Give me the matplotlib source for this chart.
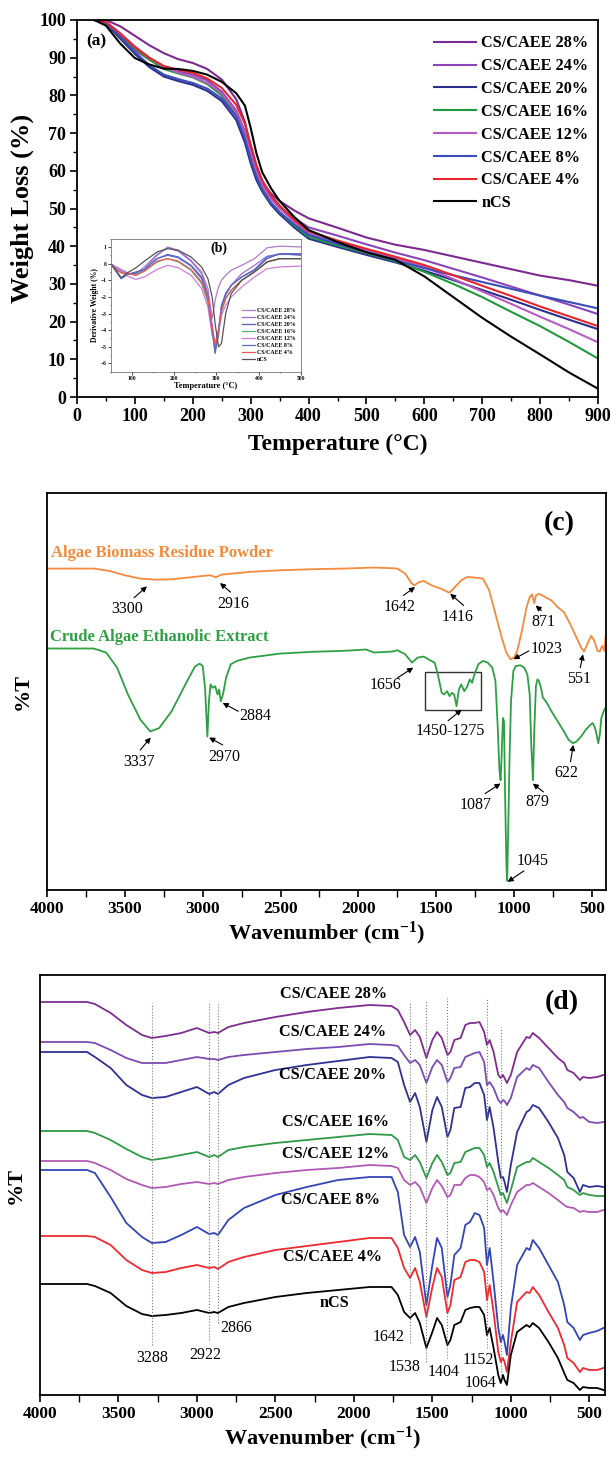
import numpy as np
import matplotlib
matplotlib.use('Agg')
import matplotlib.pyplot as plt
from matplotlib.ticker import MultipleLocator

plt.rcParams['font.family'] = ['Liberation Serif', 'DejaVu Serif']
plt.rcParams['mathtext.fontset'] = 'custom'
plt.rcParams['mathtext.rm'] = 'Liberation Serif'
plt.rcParams['mathtext.bf'] = 'Liberation Serif:bold'
plt.rcParams['mathtext.it'] = 'Liberation Serif:italic'

# ---------------- Panel (a): TGA ----------------
series_names = ['CS/CAEE 28%', 'CS/CAEE 24%', 'CS/CAEE 20%', 'CS/CAEE 16%',
                'CS/CAEE 12%', 'CS/CAEE 8%', 'CS/CAEE 4%', 'nCS']
tga_temp = [30, 50, 75, 100, 125, 150, 175, 200, 225, 250, 275, 290, 300, 310, 320,
            335, 350, 375, 400, 450, 500, 550, 600, 650, 700, 750, 800, 850, 900]
tga_28 = [100, 100, 98.3, 95.8, 93.3, 91.2, 89.6, 88.6, 87.0, 84.2, 79.0, 73.0, 66.0, 60.5, 57.0,
          54.0, 52.0, 49.5, 47.4, 44.9, 42.3, 40.4, 39.0, 37.3, 35.6, 33.9, 32.2, 31.0, 29.5]
tga_24 = [100, 99.5, 96, 92, 89.5, 87.5, 86.3, 85.5, 84, 81, 76, 70.5, 65, 60, 56.5,
          53, 50.5, 47.5, 45, 42.8, 40.5, 38.3, 36.3, 34, 31.7, 29.3, 26.9, 24.5, 22]
tga_20 = [100, 99, 95, 91, 87.5, 85, 83.8, 82.8, 81.2, 78.5, 73.5, 67.5, 62, 57.5, 54.5,
          51, 48.5, 45, 42, 39.8, 37.7, 35.7, 33.5, 31, 28.4, 25.8, 23.1, 20.5, 18]
tga_16 = [100, 99.3, 96, 92.5, 89.5, 87, 85.8, 84.8, 83, 80, 75, 69, 63.5, 58.5, 55,
          51.5, 49, 45.5, 42.5, 40.2, 38.2, 36, 33.2, 30, 26.5, 22.6, 18.8, 14.6, 10.2]
tga_12 = [100, 99.5, 96.5, 93, 90, 87.5, 86, 85, 83.3, 80.5, 75.5, 70, 64.5, 59.5, 56,
          52.5, 50, 46.5, 43.5, 41, 39, 36.8, 34.5, 31.3, 28, 24.7, 21.3, 18, 14.5]
tga_8 = [100, 99, 95.5, 91.5, 88, 85.5, 84.3, 83.3, 81.8, 79.2, 74.5, 68.5, 63, 58.3, 55,
         51.5, 49, 45.8, 43, 40.6, 38.4, 36.2, 34.2, 32.3, 30.5, 28.7, 26.9, 25.2, 23.5]
tga_4 = [100, 99.5, 96.3, 92.8, 90, 87.8, 86.8, 86, 84.5, 82, 77.5, 72.5, 67, 61.5, 57.5,
         53.5, 50.8, 47, 44, 41.5, 39.3, 37.2, 35, 32.3, 29.5, 26.8, 24, 21.4, 18.8]
tga_ncs = [100, 98.5, 93.7, 89.9, 88.2, 87.1, 87, 86.5, 85.5, 83.6, 80.6, 77.3, 71.4, 64.6, 59.6,
           55.4, 52, 47.8, 44.3, 41.1, 38.4, 36.4, 32, 26.5, 21, 16, 11.3, 6.5, 2.2]

# ---------------- Inset (b): DTG ----------------
dtg_temp = [50, 60, 75, 90, 110, 130, 160, 185, 210, 240, 265, 280, 290, 297, 305,
            312, 322, 335, 360, 390, 420, 450, 500]
dtg_28 = [0, -0.15, -0.35, -0.55, -0.7, -0.35, 0.5, 1.0, 0.8, 0.2, -0.5, -1.5, -3.3, -2.2, -1.4,
          -1.0, -0.7, -0.4, -0.1, 0.3, 0.95, 1.05, 1.0]
dtg_24 = [0, -0.2, -0.45, -0.6, -0.6, -0.2, 0.55, 0.95, 0.75, 0.15, -0.6, -1.8, -3.8, -5.2, -4.0,
          -2.8, -1.9, -1.3, -0.6, -0.1, 0.45, 0.55, 0.55]
dtg_20 = [0, -0.35, -0.9, -0.65, -0.5, -0.35, 0.3, 0.55, 0.4, -0.1, -0.8, -2.0, -3.9, -5.3, -4.3,
          -2.6, -1.8, -1.3, -0.8, -0.4, 0.3, 0.6, 0.5]
dtg_16 = [0, -0.3, -0.55, -0.6, -0.65, -0.45, 0.1, 0.3, 0.1, -0.4, -1.2, -2.3, -3.9, -4.8, -4.0,
          -2.8, -2.1, -1.6, -1.0, -0.5, 0.1, 0.3, 0.3]
dtg_12 = [0, -0.2, -0.5, -0.75, -0.95, -0.8, -0.35, -0.1, -0.25, -0.7, -1.5, -2.6, -4.3, -4.8, -4.0,
          -3.1, -2.5, -2.0, -1.4, -0.8, -0.3, -0.2, -0.15]
dtg_8 = [0, -0.35, -0.9, -0.65, -0.55, -0.35, 0.3, 0.5, 0.35, -0.15, -0.9, -2.2, -4.0, -5.4, -4.0,
         -2.5, -1.8, -1.3, -0.8, -0.35, 0.4, 0.6, 0.6]
dtg_4 = [0, -0.3, -0.55, -0.6, -0.7, -0.45, 0.15, 0.3, 0.15, -0.35, -1.1, -2.1, -3.7, -4.9, -4.2,
         -2.9, -2.1, -1.6, -1.0, -0.5, 0.1, 0.3, 0.3]
dtg_ncs = [0, -0.3, -0.85, -0.55, -0.25, 0.15, 0.7, 0.9, 0.8, 0.4, -0.2, -0.9, -2.0, -3.6, -5.0,
           -4.8, -3.0, -1.8, -1.0, -0.5, 0.1, 0.3, 0.3]

# ---------------- Panel (c): FTIR of algae ----------------
abr_wn = [4000, 3700, 3600, 3500, 3400, 3300, 3200, 3100, 3000, 2950,
          2916, 2880, 2700, 2500, 2300, 2100, 1900, 1780, 1750, 1700,
          1660, 1642, 1610, 1580, 1530, 1470, 1416, 1380, 1340, 1300,
          1250, 1200, 1160, 1120, 1080, 1050, 1023, 1000, 980, 950,
          920, 900, 885, 871, 860, 840, 800, 760, 720, 680,
          640, 600, 570, 551, 530, 505, 485, 465, 450, 435,
          420, 412]
abr_t = [957, 957, 950, 937, 927, 924, 925, 930, 935, 937,
         931, 939, 947, 952, 955, 957, 960, 958, 957, 942,
         914, 907, 917, 920, 907, 897, 885, 902, 922, 932,
         930, 927, 892, 822, 752, 707, 687, 692, 712, 772,
         842, 872, 880, 854, 877, 882, 872, 862, 842, 827,
         792, 752, 722, 710, 732, 757, 742, 712, 710, 727,
         712, 757]
caee_wn = [4000, 3700, 3620, 3550, 3480, 3400, 3337, 3280, 3200, 3100,
           3050, 3020, 3000, 2985, 2970, 2960, 2950, 2935, 2920, 2905,
           2895, 2884, 2870, 2850, 2820, 2780, 2700, 2500, 2300, 2100,
           1950, 1900, 1780, 1750, 1700, 1656, 1620, 1580, 1540, 1510,
           1490, 1465, 1450, 1430, 1415, 1400, 1385, 1370, 1355, 1340,
           1320, 1300, 1285, 1270, 1255, 1230, 1200, 1170, 1140, 1120,
           1105, 1095, 1087, 1080, 1072, 1065, 1058, 1050, 1045, 1040,
           1030, 1020, 1005, 990, 960, 935, 915, 900, 890, 879,
           870, 860, 850, 840, 825, 815, 805, 790, 760, 720,
           680, 650, 622, 600, 570, 540, 510, 495, 480, 470,
           460, 450, 440, 425, 415]
caee_t = [719, 719, 707, 662, 582, 507, 472, 482, 532, 622,
          665, 674, 667, 602, 457, 562, 612, 602, 607, 582,
          597, 562, 582, 632, 672, 682, 692, 704, 709, 712,
          716, 707, 710, 714, 702, 677, 692, 695, 684, 677,
          642, 587, 582, 592, 577, 587, 582, 547, 597, 612,
          592, 607, 627, 617, 642, 672, 682, 677, 662, 622,
          482, 362, 327, 402, 512, 502, 282, 82, 27, 132,
          382, 562, 652, 667, 669, 662, 642, 582, 432, 327,
          482, 607, 627, 622, 597, 572, 567, 557, 532, 502,
          472, 447, 437, 442, 457, 477, 492, 497, 482, 462,
          437, 462, 512, 532, 542]

# ---------------- Panel (d): FTIR of films ----------------
film_wn = [4000, 3700, 3650, 3550, 3450, 3350, 3288, 3200, 3100, 3000,
           2922, 2890, 2866, 2800, 2700, 2500, 2300, 2100, 1900, 1760,
           1720, 1680, 1642, 1610, 1580, 1538, 1500, 1470, 1440, 1404,
           1385, 1360, 1320, 1290, 1260, 1230, 1200, 1170, 1152, 1135,
           1110, 1080, 1064, 1050, 1040, 1025, 1000, 960, 900, 880,
           860, 820, 760, 700, 660, 640, 600, 560, 540, 500,
           450, 410]
film_28 = [393, 393, 391, 382, 370, 360, 357, 359, 362, 367, 362, 363, 362, 368, 372, 378, 383, 387, 390, 389,
           385, 373, 360, 365, 358, 337, 355, 363, 357, 340, 343, 355, 357, 370, 372, 372, 373, 363, 350, 355,
           343, 320, 317, 320, 317, 312, 320, 343, 358, 357, 362, 357, 347, 337, 332, 325, 322, 315, 318, 317,
           318, 320]
film_24 = [353, 353, 352, 345, 337, 332, 332, 332, 335, 338, 336, 336, 335, 338, 340, 343, 346, 348, 351, 350,
           349, 340, 332, 335, 330, 312, 328, 335, 330, 313, 317, 327, 328, 338, 340, 342, 343, 333, 310, 313,
           307, 295, 292, 295, 294, 290, 297, 318, 327, 325, 330, 327, 313, 300, 293, 287, 283, 277, 278, 273,
           272, 273]
film_20 = [343, 343, 338, 327, 310, 300, 297, 298, 303, 308, 301, 303, 301, 310, 317, 325, 330, 334, 338, 337,
           333, 310, 293, 302, 288, 253, 285, 298, 288, 258, 265, 287, 288, 307, 308, 312, 312, 300, 275, 288,
           267, 233, 217, 218, 213, 203, 230, 263, 283, 285, 290, 287, 273, 257, 240, 223, 217, 203, 210, 208,
           209, 208]
film_16 = [264, 264, 262, 255, 246, 238, 235, 237, 240, 243, 238, 240, 238, 245, 248, 252, 255, 258, 261, 260,
           255, 238, 235, 240, 233, 217, 232, 240, 233, 220, 222, 232, 233, 243, 245, 247, 247, 240, 228, 232,
           223, 208, 200, 202, 198, 192, 205, 228, 233, 233, 237, 233, 227, 220, 215, 208, 205, 200, 202, 200,
           199, 199]
film_12 = [234, 234, 232, 225, 216, 210, 207, 208, 211, 213, 211, 212, 211, 215, 218, 222, 225, 227, 230, 229,
           227, 215, 210, 213, 208, 192, 207, 215, 209, 198, 200, 210, 210, 217, 220, 220, 218, 213, 205, 207,
           200, 187, 183, 185, 183, 180, 190, 203, 210, 210, 212, 208, 202, 195, 190, 188, 187, 183, 184, 183,
           183, 185]
film_8 = [225, 225, 222, 198, 172, 158, 152, 153, 160, 168, 161, 162, 160, 175, 187, 200, 208, 215, 218, 218,
          203, 160, 148, 158, 143, 90, 130, 157, 147, 98, 110, 140, 147, 170, 173, 182, 180, 167, 130, 147,
          113, 67, 53, 60, 53, 40, 87, 130, 147, 145, 155, 147, 130, 113, 90, 73, 67, 55, 60, 62,
          64, 67]
film_4 = [159, 159, 158, 150, 135, 125, 122, 123, 127, 130, 127, 128, 126, 133, 138, 145, 149, 153, 157, 157,
          147, 127, 117, 127, 113, 78, 108, 127, 118, 82, 90, 115, 118, 133, 135, 135, 133, 123, 95, 110,
          83, 43, 33, 37, 33, 23, 53, 93, 103, 102, 108, 100, 83, 67, 50, 37, 32, 23, 27, 25,
          25, 27]
film_ncs = [111, 111, 109, 102, 89, 81, 79, 80, 82, 85, 82, 83, 82, 88, 92, 98, 102, 105, 108, 108,
            100, 83, 77, 82, 72, 47, 63, 77, 70, 50, 55, 70, 73, 85, 87, 88, 88, 80, 60, 67,
            47, 20, 12, 20, 15, 10, 40, 63, 70, 68, 72, 67, 53, 37, 22, 15, 12, 5, 8, 7,
            7, 5]

peak_wn = [3288, 2922, 2866, 1642, 1538, 1404, 1152, 1064]
peak_top = [392, 393, 392, 392, 394, 397, 396, 368]
peak_bottom = [50, 55, 72, 52, 33, 37, 47, 17]

# ---------------- Styling ----------------
tga_colors = ['#7B2A90', '#8A46B8', '#2C2F8C', '#1F9A3E', '#B45BC4', '#3A4DB8', '#E8252A', '#000000']
dtg_colors = ['#B07CC6', '#9C6FD0', '#5A5FB0', '#4DB86A', '#D07CD6', '#5A6CCB', '#F0565A', '#555555']
film_colors = ['#7E2D8F', '#7A4CB0', '#2E3192', '#2E9A47', '#B05AB5', '#3345B5', '#EE2A2E', '#000000']
c_orange = '#F58A3C'
c_green = '#2EA043'

BOLD = 'bold'

fig = plt.figure(figsize=(6.11, 14.63), dpi=100)
W, H = 611.0, 1463.0
axA = fig.add_axes([77 / W, 1 - 397 / H, 521 / W, 377 / H])
axC = fig.add_axes([47 / W, 1 - 890 / H, 559 / W, 397 / H])
axD = fig.add_axes([40 / W, 1 - 1395 / H, 565 / W, 420 / H])

for ax in (axA, axC, axD):
    for sp in ax.spines.values():
        sp.set_linewidth(1.3)

# ---- Panel (a)
tga_series = [tga_28, tga_24, tga_20, tga_16, tga_12, tga_8, tga_4, tga_ncs]
lines = []
for name, ys, col in zip(series_names, tga_series, tga_colors):
    ln, = axA.plot(tga_temp, ys, color=col, lw=1.5, label=name)
    lines.append(ln)
axA.set_xlim(0, 900)
axA.set_ylim(0, 100)
axA.xaxis.set_major_locator(MultipleLocator(100))
axA.xaxis.set_minor_locator(MultipleLocator(50))
axA.yaxis.set_major_locator(MultipleLocator(10))
axA.yaxis.set_minor_locator(MultipleLocator(5))
axA.tick_params(which='major', direction='out', length=5, width=1.2, labelsize=13, pad=3)
axA.tick_params(which='minor', direction='out', length=3, width=1.0)
for lab in axA.get_xticklabels() + axA.get_yticklabels():
    lab.set_fontweight(BOLD)
axA.set_xlabel('Temperature (°C)', fontsize=17, fontweight=BOLD, labelpad=6)
axA.set_ylabel('Weight Loss (%)', fontsize=19, fontweight=BOLD, labelpad=4)
axA.text(0.018, 0.965, '(a)', transform=axA.transAxes, fontsize=12.5, fontweight=BOLD,
         va='top', ha='left')
leg = axA.legend(handles=lines, loc='upper right', bbox_to_anchor=(1.0, 0.985), frameon=False,
                 prop={'weight': 'bold', 'size': 11.7}, handlelength=2.6, labelspacing=0.42,
                 handletextpad=0.3, borderaxespad=0.2)

# ---- Inset (b)
axB = axA.inset_axes([58, 6.7, 329, 35.3], transform=axA.transData)
dtg_series = [dtg_28, dtg_24, dtg_20, dtg_16, dtg_12, dtg_8, dtg_4, dtg_ncs]
blines = []
for name, ys, col in zip(series_names, dtg_series, dtg_colors):
    ln, = axB.plot(dtg_temp, ys, color=col, lw=0.9, label=name)
    blines.append(ln)
axB.set_xlim(50, 500)
axB.set_ylim(-6.5, 1.5)
axB.xaxis.set_major_locator(MultipleLocator(100))
axB.xaxis.set_minor_locator(MultipleLocator(50))
axB.yaxis.set_major_locator(MultipleLocator(1))
axB.yaxis.set_minor_locator(MultipleLocator(0.5))
axB.tick_params(which='major', direction='out', length=2, width=0.5, labelsize=4, pad=1)
axB.tick_params(which='minor', direction='out', length=1, width=0.4)
for sp in axB.spines.values():
    sp.set_linewidth(0.6)
    sp.set_color('#777777')
for lab in axB.get_xticklabels() + axB.get_yticklabels():
    lab.set_fontweight(BOLD)
axB.set_xlabel('Temperature (°C)', fontsize=6, fontweight=BOLD, labelpad=1)
axB.set_ylabel('Derivative Weight (%)', fontsize=5.5, fontweight=BOLD, labelpad=1)
axB.text(305, 0.95, '(b)', fontsize=10, fontweight=BOLD, ha='center', va='center')
axB.legend(handles=blines, loc='lower right', bbox_to_anchor=(1.0, 0.03), frameon=False,
           prop={'weight': 'bold', 'size': 4.2}, handlelength=2.2, labelspacing=0.35,
           handletextpad=0.3)

# ---- Panel (c)
axC.plot(abr_wn, abr_t, color=c_orange, lw=1.3)
axC.plot(caee_wn, caee_t, color=c_green, lw=1.3)
axC.set_xlim(4000, 410)
axC.set_ylim(0, 1182)
axC.xaxis.set_major_locator(MultipleLocator(500))
axC.xaxis.set_minor_locator(MultipleLocator(250))
axC.set_yticks([])
axC.tick_params(which='major', direction='out', length=5, width=1.2, labelsize=12.5, pad=3)
axC.tick_params(which='minor', direction='out', length=5, width=1.0)
for lab in axC.get_xticklabels():
    lab.set_fontweight(BOLD)
axC.set_xlabel(r'Wavenumber (cm$^{\mathbf{-1}}$)', fontsize=16, fontweight=BOLD, labelpad=2)
axC.set_ylabel('%T', fontsize=16, fontweight=BOLD, labelpad=10)
axC.text(712, 1092, '(c)', fontsize=20, fontweight=BOLD, ha='center', va='center')
axC.text(3975, 1004, 'Algae Biomass Residue Powder', color=c_orange, fontsize=12,
         fontweight=BOLD, ha='left', va='center')
axC.text(3983, 754, 'Crude Algae Ethanolic Extract', color=c_green, fontsize=12,
         fontweight=BOLD, ha='left', va='center')

c_notes = [  # label, text pos, arrow tail, arrow tip
    ('3300', (3483, 837), (3441, 870), (3358, 904)),
    ('2916', (2802, 852), (2822, 887), (2889, 914)),
    ('1642', (1736, 844), (1711, 877), (1636, 902)),
    ('1416', (1361, 812), (1324, 847), (1411, 882)),
    ('871', (812, 797), (825, 832), (862, 847)),
    ('1023', (790, 717), (905, 712), (1004, 687)),
    ('551', (583, 627), (575, 662), (558, 702)),
    ('1656', (1823, 610), (1748, 632), (1648, 662)),
    ('1450-1275', (1411, 472), (1424, 504), (1337, 537)),
    ('2884', (2660, 517), (2772, 532), (2872, 557)),
    ('3337', (3408, 382), (3401, 417), (3334, 454)),
    ('2970', (2859, 397), (2872, 432), (2959, 454)),
    ('1087', (1249, 252), (1187, 287), (1087, 317)),
    ('879', (850, 262), (812, 292), (880, 317)),
    ('622', (663, 347), (638, 382), (620, 432)),
    ('1045', (880, 87), (937, 57), (1042, 24)),
]
for lab, tpos, tail, tip in c_notes:
    axC.text(tpos[0], tpos[1], lab, fontsize=11.5, ha='center', va='center')
    axC.annotate('', xy=tip, xytext=tail,
                 arrowprops=dict(arrowstyle='-|>', lw=0.8, color='black', mutation_scale=8,
                                 shrinkA=0, shrinkB=0))
axC.add_patch(plt.Rectangle((1574, 537), 1212 - 1574, 650 - 537, fill=False,
                            edgecolor='#333333', lw=1.0))

# ---- Panel (d)
film_series = [film_28, film_24, film_20, film_16, film_12, film_8, film_4, film_ncs]
for ys, col in zip(film_series, film_colors):
    axD.plot(film_wn, ys, color=col, lw=1.3)
for wn, top, bot in zip(peak_wn, peak_top, peak_bottom):
    axD.plot([wn, wn], [bot, top], color='#777777', lw=0.8, ls=':')
axD.set_xlim(4000, 400)
axD.set_ylim(0, 420)
axD.xaxis.set_major_locator(MultipleLocator(500))
axD.xaxis.set_minor_locator(MultipleLocator(250))
axD.set_yticks([])
axD.tick_params(which='major', direction='out', length=5, width=1.2, labelsize=12.5, pad=3)
axD.tick_params(which='minor', direction='out', length=5, width=1.0)
for lab in axD.get_xticklabels():
    lab.set_fontweight(BOLD)
axD.set_xlabel(r'Wavenumber (cm$^{\mathbf{-1}}$)', fontsize=16, fontweight=BOLD, labelpad=2)
axD.set_ylabel('%T', fontsize=16, fontweight=BOLD, labelpad=10)
axD.text(673, 392, '(d)', fontsize=20, fontweight=BOLD, ha='center', va='center')

d_label_pos = [(2128, 401), (2136, 363), (2136, 320), (2119, 273), (2119, 241),
               (2148, 195), (2136, 138), (2124, 92)]
for name, (x, y) in zip(series_names, d_label_pos):
    axD.text(x, y, name, fontsize=11.7, fontweight=BOLD, ha='center', va='center')

d_peak_labels = [('3288', 3288, 37), ('2922', 2949, 40), ('2866', 2751, 67), ('1642', 1776, 58),
                 ('1538', 1677, 28), ('1404', 1429, 23), ('1152', 1206, 35), ('1064', 1194, 12)]
for lab, x, y in d_peak_labels:
    axD.text(x, y, lab, fontsize=11.5, ha='center', va='center')

fig.savefig('out.png', dpi=100)
